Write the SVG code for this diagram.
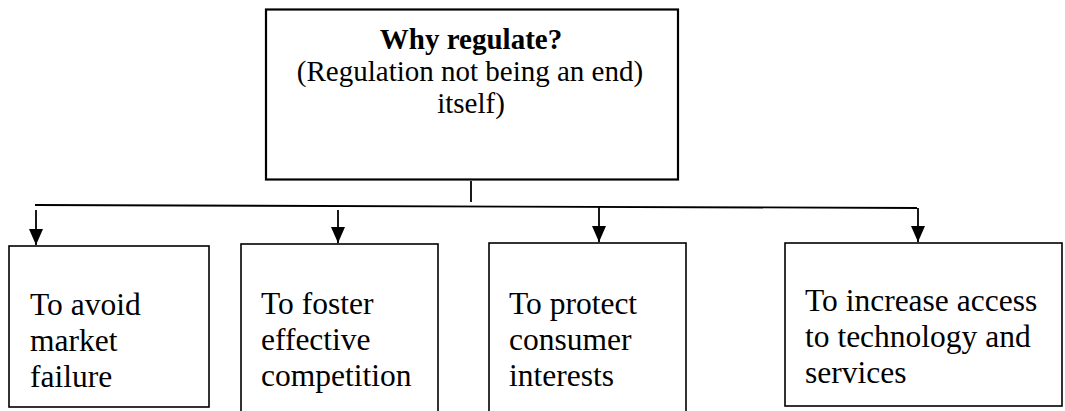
<svg xmlns="http://www.w3.org/2000/svg" width="1065" height="411" viewBox="0 0 1065 411" font-family="'Liberation Serif', 'DejaVu Serif', serif">
  <defs>
    <marker id="arrowhead" viewBox="0 0 16 14" refX="16" refY="7" markerWidth="16" markerHeight="14" markerUnits="userSpaceOnUse" orient="auto">
      <path d="M0 0 L16 7 L0 14 Z" fill="#000"/>
    </marker>
    <style>
      .box { fill: #fff; stroke: #000; stroke-width: 1.6; }
      .top { stroke-width: 2.2; }
      .wire { fill: none; stroke: #000; stroke-width: 1.8; }
      .down { fill: none; stroke: #000; stroke-width: 1.8; }
      text { font-family: 'Liberation Serif', 'DejaVu Serif', serif; font-size: 31.5px; fill: #000; }
      .head { font-size: 29px; }
      .title { font-weight: bold; }
      .mid { text-anchor: middle; }
    </style>
  </defs>
  <rect width="1065" height="411" fill="#fff"/>

  <!-- root question -->
  <g id="why-regulate">
    <rect class="box top" x="266" y="9.5" width="412" height="170"/>
    <text class="head title mid" x="471" y="49">Why regulate?</text>
    <text class="head mid" x="470" y="81">(Regulation not being an end)</text>
    <text class="head mid" x="471" y="113">itself)</text>
  </g>

  <!-- reasons -->
  <g id="avoid-market-failure">
    <rect class="box" x="9" y="246" width="200" height="161"/>
    <text x="30" y="315">To avoid</text>
    <text x="30" y="351">market</text>
    <text x="30" y="387">failure</text>
  </g>

  <g id="foster-competition">
    <rect class="box" x="241" y="244" width="197" height="180"/>
    <text x="261" y="314">To foster</text>
    <text x="261" y="350">effective</text>
    <text x="261" y="386">competition</text>
  </g>

  <g id="protect-consumers">
    <rect class="box" x="489" y="243" width="197" height="180"/>
    <text x="509" y="314">To protect</text>
    <text x="509" y="350">consumer</text>
    <text x="509" y="386">interests</text>
  </g>

  <g id="increase-access">
    <rect class="box" x="785" y="243" width="277" height="163"/>
    <text x="805" y="311">To increase access</text>
    <text x="805" y="347">to technology and</text>
    <text x="805" y="383">services</text>
  </g>

  <!-- connectors -->
  <g id="connectors">
    <path class="wire" d="M471 181 L471 202"/>
    <path class="wire" d="M35 205 L917 208"/>
    <path class="down" d="M36 210 L36 245" marker-end="url(#arrowhead)"/>
    <path class="down" d="M338 210 L338 243" marker-end="url(#arrowhead)"/>
    <path class="down" d="M599 207 L599 242" marker-end="url(#arrowhead)"/>
    <path class="down" d="M918 208 L918 242" marker-end="url(#arrowhead)"/>
  </g>
</svg>
